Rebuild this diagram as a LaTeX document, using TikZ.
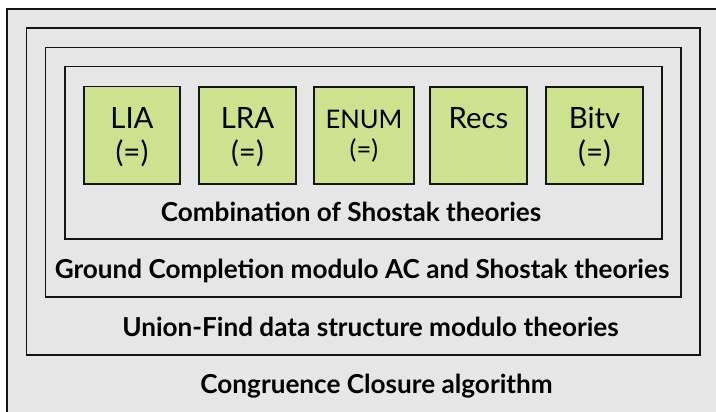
\documentclass[tikz,border=0pt]{standalone}
\usepackage{fontspec}
\setmainfont{Lato}
\definecolor{panelgray}{RGB}{230,230,230}
\definecolor{theorygreen}{RGB}{205,226,143}
\definecolor{edgecol}{RGB}{20,20,20}
\tikzset{
  layer/.style={draw=edgecol, line width=0.9pt, fill=panelgray},
  outerlayer/.style={draw=edgecol, line width=1.5pt, fill=panelgray},
  theorybox/.style={draw=edgecol, line width=1.2pt, fill=theorygreen},
  thname/.style={anchor=base, inner sep=0pt, font=\fontsize{22pt}{26pt}\selectfont},
  thname small/.style={anchor=base, inner sep=0pt, font=\fontsize{19.2pt}{23pt}\selectfont},
  layerlabel/.style={anchor=base, inner sep=0pt, font=\bfseries\fontsize{19.6pt}{23pt}\selectfont},
}
\begin{document}
\begin{tikzpicture}[x=0.75pt,y=-0.75pt]
\clip (0,0) rectangle (716,411);
\fill[white] (0,0) rectangle (716,411);
% layers
\draw[outerlayer] (7,9) rectangle (724,420);
\draw[layer] (26.7,28) rectangle (700,355);
\draw[layer] (45.7,47.7) rectangle (681,297);
\draw[layer] (65,66.7) rectangle (662,239);
% theory boxes
\draw[theorybox] (84,86.5) rectangle (180,184);
\draw[theorybox] (199,87) rectangle (296,184);
\draw[theorybox] (314,87) rectangle (414,184);
\draw[theorybox] (430,87) rectangle (527,184);
\draw[theorybox] (546,87) rectangle (643,184);
% theory names
\node[thname] (lia) at (132,128) {LIA};
\node[thname] (liaeq) at (132,162) {(=)};
\node[thname] (lra) at (247.5,128) {LRA};
\node[thname] (lraeq) at (247.5,162) {(=)};
\node[thname small] (enum) at (364,128) {ENUM};
\node[thname small] (enumeq) at (364,158) {(=)};
\node[thname] (recs) at (478.5,128) {Recs};
\node[thname] (bitv) at (594.5,128) {Bitv};
\node[thname] (bitveq) at (594.5,162) {(=)};
% layer labels
\node[layerlabel] (comb) at (351,221) {Combination of Shostak theories};
\node[layerlabel] (ground) at (362,278) {Ground Completion modulo AC and Shostak theories};
\node[layerlabel] (uf) at (370.5,336) {Union-Find data structure modulo theories};
\node[layerlabel] (cc) at (376.5,393) {Congruence Closure algorithm};
\end{tikzpicture}
\end{document}
